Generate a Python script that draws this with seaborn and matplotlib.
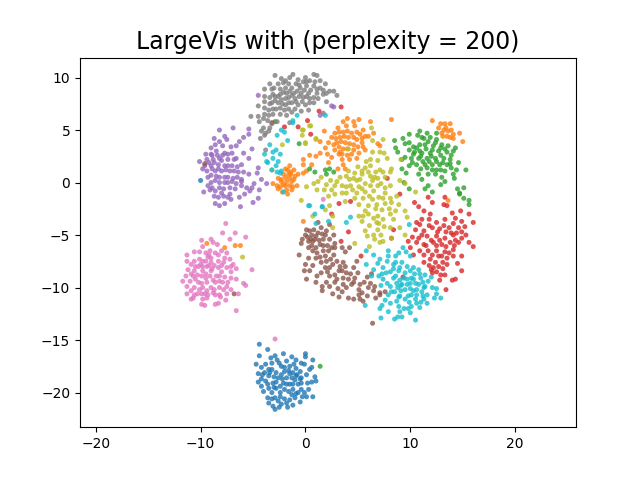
import matplotlib
matplotlib.use("Agg")
import matplotlib.pyplot as plt
import seaborn as sns
import pandas as pd

# points, one list per digit class (x, y)
blue = [(-4.4,-15.4),(-3.6,-15.9),(-4.4,-16.5),(-2.1,-16.3),(0,-16.3),(0,-16.6),(-4.7,-17.3),(-4.2,-17.6),(-3.8,-17.3),(-3.3,-16.7),
        (-2.9,-16.5),(-2.7,-16.9),(-1.8,-17),(-1.3,-16.6),(-.9,-16.9),(-.4,-17.2),(.7,-16.9),(-3.2,-17.2),(-2.3,-17.5),(-1.5,-17.5),
        (-.9,-17.7),(-.1,-17.3),(.6,-17.6),(.4,-17.8),(-4.5,-18.2),(-3.9,-18.1),(-3.2,-17.8),(-2.8,-18.1),(-2,-18),(-1.2,-18.1),
        (-.5,-18),(.1,-18.3),(-4.2,-18.7),(-3.5,-18.4),(-2.6,-18.6),(-1.8,-18.6),(-1,-18.8),(-.4,-18.6),(.9,-18.5),(-4.5,-19),
        (-3.8,-18.9),(-3.1,-19.1),(-2.1,-19.1),(-1.5,-19.2),(-.7,-19.2),(.6,-19),(1,-18.9),(-4.2,-19.4),(-3.5,-19.6),(-2.8,-19.6),
        (-2,-19.7),(-1.2,-19.7),(-.4,-19.7),(.3,-19.7),(-4,-19.9),(-3.2,-20),(-2.4,-20),(-1.3,-20.2),(-.7,-20),(-.1,-20),
        (.7,-20.4),(-3.6,-20.5),(-2.9,-20.5),(-2,-20.6),(-1,-20.5),(.1,-20.4),(-3.5,-21),(-2.6,-20.8),(-1.8,-21),(-.5,-20.9),
        (-3.1,-21.3),(-2.3,-21.1),(-1.7,-21.4),(-1.2,-21.2),(-2.9,-21.6),(-10,.2),
        (-3.5,-17.8),(-2.5,-17.2),(-1.1,-17.3),(-3,-18.5),(-2.3,-18.3),(-1.5,-18.2),(-.8,-18.3),(-2.8,-19),(-2.4,-19.4),(-1.8,-19.2),
        (-1.2,-19.2),(-.4,-19.1),(.2,-19.1),(-3,-19.5),(-2.4,-20.4),(-1.6,-19.9),(-.9,-20.1),(-3.2,-20.6),(-1.5,-20.7),(-.9,-18.4),
        (-2,-17.6),(-1.6,-17.9),(-3.6,-19.2),(-2.2,-18.7),(-1.3,-18.6),(-.3,-20.4),(-2.5,-21.4),(-3.4,-18.1),(-.5,-18.7),(-4.1,-18.3)]
orange = [(8.2,6),(4,6.1),(3.6,5.8),(4.6,5.8),(5.1,6),(6.2,5.8),(3.1,5.2),(3.9,5.4),(4.7,5.4),(5.5,5),(6.5,4.7),(1.8,4.9),
          (2.8,4.7),(3.6,4.8),(4.4,4.7),(5.2,4.6),(6,4.4),(2.5,4.3),(3.3,4.3),(4.1,4.3),(4.9,4.1),(1.4,3.9),(2.2,3.8),(3,3.8),
          (3.8,3.8),(4.6,3.6),(5.4,3.8),(6.9,3.7),(7.1,3.5),(1.9,3.3),(2.8,3.1),(3.6,3.2),(5.1,2.8),(5.7,3.1),(1.4,2.8),(2.1,2.7),
          (3.2,2.7),(4.4,2.7),(.4,2.6),(1,2.5),(2.5,2.4),(3.5,2.2),(4.9,2.3),(-.2,2.2),(.6,1.7),(2.2,1.9),(3.6,1.7),(-.2,1.7),
          (.1,1.1),(3.1,1.3),(3.8,1.3),(-1.5,1.6),(-1.9,1.3),(-1.1,1.2),(-.7,.8),(-1,.6),(-2.1,.8),(-1.6,.8),(-2.6,.4),(-2.3,.3),
          (-1.8,.1),(-1.3,.1),(-3.1,-.1),(-2.7,-.3),(-2.1,-.2),(-1.5,-.3),(-.8,-.3),(-2.6,-.6),(-1.8,-.7),(-1.3,-.7),(-1.7,-1.1),(-.2,.9),
          (12.1,5.9),(13.3,5.6),(13.8,5.6),(12.7,5.2),(13.2,5),(13.6,4.9),(14.7,4.7),(13,4.7),(14.1,4.6),(13.5,4.4),(13.8,4.3),(14.1,4.2),
          (15,3.9),(13.6,-1.7),(-.2,-3.7),(-9.4,-5.8),(-7.7,-6.2),(-6.7,-6),(-6.2,-6),
          (3.2,4.8),(4,4.9),(4.9,4.8),(5.7,4.4),(3.7,4.4),(4.6,4.3),(5.4,4.2),(2.9,4.2),(3.4,3.9),(4.2,3.7),(5,3.4),(3.2,3.4),(4,3.2),
          (4.6,3.1),(5.5,3.4),(2.7,3.6),(3.3,2.9),(4,2.6),(4.2,2.2),(3.5,2.7),(-1.7,1.2),(-1.4,1),(-1.9,.5),(-1.5,.4),(-1.1,.3),(-2.3,.1),
          (-1.9,-.3),(-2.4,-.4),(-1.2,-.4),(-1.4,.8),(13.4,5.2),(13.9,5),(13.1,4.4),(12.9,5.6),(-2.2,-.9)]
green = [(8.5,4),(9.3,4.2),(9.9,4.6),(10.9,4.9),(11.6,4.7),(12.5,4.7),(9.5,3.7),(9.9,3.8),(11.1,4.3),(11.9,4.3),(12.5,4.1),(8.6,3.3),
         (8.8,2.9),(9.9,3.1),(10.6,3.3),(11.4,3.6),(12.2,3.5),(13,3.6),(13.6,3.5),(14.3,3.3),(10.3,2.7),(11.1,2.8),(11.9,2.8),(12.7,3),
         (13.5,2.9),(14.1,3),(9.5,2.4),(9.2,2.2),(10.8,2.3),(11.6,2.3),(12.4,2.3),(13.2,2.3),(13.8,2.2),(9.2,1.3),(9.9,1.6),(10.6,1.7),
         (11.4,1.7),(12.1,1.7),(12.8,1.7),(13.5,1.7),(14.6,1.9),(9.6,.9),(10.8,.8),(11.7,.8),(12.5,1.2),(13.3,1.1),(14.1,.8),(14.4,1.2),
         (15.3,1.2),(11.1,.3),(13,.5),(9.4,0),(13.3,.1),(11.7,-.3),(11.4,-.6),(12.9,-.2),(9.9,-.6),(12.1,-.9),(15.1,-.5),(14.7,-1),
         (15.1,-1.5),(15.6,-1.7),(15.6,-2.1),(14.7,-1.1),(-.6,3.7),(1.9,1.2),(2.3,1.3),(.9,1),(2.7,1),(2,.8),(.4,1.3),(-2.9,5.8),(1.4,-17.5),
         (10.7,4.5),(11.3,4.2),(10.9,3.6),(11.7,3.9),(12.4,3.8),(10.3,3.4),(10.9,3),(11.5,3.2),(12.1,3.1),(12.9,3.3),(13.3,3.2),(10.1,2.3),
         (11,2.5),(12,2.5),(12.9,2.6),(13.9,2.6),(11.2,2),(11.8,2),(12.5,2),(13.1,1.9),(13.8,1.8),(10.2,1.9),(11,1.3),(11.6,1.4),(12.1,1.2),
         (12.9,1.2),(13.9,1.4),(14.2,.4),(10.4,2.9),(12.4,.8),(14.5,-.6)]
red = [(10.4,-1.9),(12.1,-1.9),(10.8,-2.3),(11.3,-2.7),(13.2,-2.1),(13.5,-2.2),(11.9,-3),(14,-2.9),(14.8,-2.7),(15.6,-3),(16,-3.8),
       (10.6,-3.8),(11.1,-3.5),(11.8,-3.5),(12.5,-3.8),(13.3,-3.5),(14.3,-3.4),(14.9,-3.7),(10.5,-4.5),(11.3,-4.6),(12.1,-4.3),(12.8,-4.4),
       (13.7,-4.3),(14.6,-4.3),(15.2,-4.2),(9.8,-5.6),(10.8,-5.3),(11.6,-5.1),(12.5,-5.1),(13.3,-5.3),(14.1,-5),(14.9,-5.3),(15.6,-5.7),
       (16,-6.1),(10.6,-5.7),(11.3,-5.9),(12.2,-5.7),(13,-5.9),(13.8,-5.7),(14.6,-5.7),(10.9,-6.5),(11.7,-6.5),(12.5,-6.5),(13.3,-6.6),
       (14.1,-6.4),(14.9,-7),(10.3,-6.9),(11.3,-7.6),(11.9,-7.3),(12.7,-7),(13.5,-7.2),(14.1,-7),(14.5,-7.7),(12.2,-8.1),(12.7,-8),
       (13.5,-7.8),(14.9,-8.4),(12.1,-8.6),(13.3,-8.8),(12.8,-9.3),(14,-9.3),(14.3,-9.2),(13.4,-10.2),(5.3,-7),(3.4,-5.6),(4.1,-4.7),
       (3.2,-2),(4.3,-1.8),(2.5,-3),(8.4,-4.5),(8.2,-5.3),(9.3,-9),(7.8,.4),(9,-1.1),(11.7,-1.4),(13.3,-1.4),(1.3,6.8),(3.4,7.2),
       (-3.2,5.7),(.2,5.9),(-2,5.3),(-.7,5.3),(.5,4.6),
       (12.6,-4.7),(13.2,-4.1),(14.1,-3.9),(14.9,-4.7),(13.9,-4.8),(13.4,-4.7),(14.4,-4.8),(12,-5.5),(12.8,-5.5),(14.3,-5.5),(11.1,-5),
       (10.2,-5.2),(11.5,-6),(12.5,-6),(13.4,-6.1),(14.2,-6),(11.3,-6.9),(12.1,-6.9),(13,-7),(13.7,-6.7),(11.8,-7.9),(12.4,-7.6),(13.1,-7.6),
       (12,-8.3),(12.5,-8.5),(10.9,-4),(15.3,-5),(11.8,-4.1),(13.1,-8.2),(12.9,-8.8),(10,-6.2)]
purple = [(-8.2,5),(-6.9,5.2),(-5.4,5.1),(-5.4,4.6),(-8.7,4.2),(-7.7,4.4),(-7.5,4.1),(-8.2,3.9),(-6.3,3.9),(-5.9,4.3),(-8.6,3.6),(-9,3.3),
          (-7.9,3.5),(-7.1,3.4),(-6.6,3.5),(-5.1,3.2),(-9.5,2.7),(-9,2.7),(-8.5,3),(-7.7,2.8),(-7,2.8),(-5.9,2.8),(-10.1,2),(-9.4,2.2),
          (-8.8,2.2),(-8.2,2.3),(-7.4,2.2),(-6.6,2.3),(-5.4,2.3),(-9.6,1.6),(-9,1.6),(-8.3,1.7),(-7.7,1.6),(-7,1.6),(-6.1,1.7),(-4.5,1.4),
          (-9.4,1.1),(-8.6,1.1),(-8,1.1),(-7.2,1.1),(-6.4,1),(-5.4,.8),(-4.6,.9),(-9.3,.5),(-8.5,.6),(-7.7,.5),(-6.9,.4),(-6.1,.3),
          (-4.2,.3),(-9,0),(-8.2,0),(-7.4,0),(-6.6,-.1),(-4.9,-.1),(-3.7,-.1),(-9.3,-.3),(-8.2,-.5),(-7.2,-.5),(-6.1,-.3),(-5.1,-.5),
          (-4.4,-.7),(-9.7,-.9),(-9.1,-.7),(-8.6,-.8),(-8,-1),(-7.2,-1.1),(-5.8,-1.1),(-5.3,-.8),(-8.7,-1.3),(-7.4,-1.4),(-6.3,-1.4),
          (-4.5,-1.5),(-8.6,-2),(-8.2,-2.2),(-7.7,-2),(-5,-1.9),(-6.2,-2.3),(-4.5,8.3),(2.5,7.3),(2.7,7.2),(1.4,6.4),
          (-8.9,2.6),(-8.4,2.6),(-8,2.1),(-7.4,2.7),(-6.8,2.2),(-9.2,1.9),(-8.7,1.9),(-7.9,2.6),(-7.4,1.6),(-6.5,1.5),(-8.9,1.3),(-8.3,1.3),
          (-7.6,1.2),(-6.8,1.1),(-9,.7),(-8.2,.5),(-7.4,.5),(-6.5,.5),(-5.9,1),(-8.6,.2),(-7.7,0),(-7,.1),(-6.1,.1),(-8.9,-.5),(-7.8,-.6),
          (-6.7,-.6),(-8.3,-1.4),(-7.1,-1.6),(-7.8,-1.3),(-5.6,-.5),(-9.8,1.3)]
brown = [(1.2,-3.8),(2.3,-4),(.1,-4.5),(.8,-4.5),(1.5,-4.3),(0,-5),(.6,-5),(1.2,-4.8),(2,-4.6),(2.7,-5),(-.3,-5.4),(.3,-5.6),(.9,-5.4),
         (1.7,-5.4),(2.3,-5.4),(-.4,-5.8),(.6,-6),(1.4,-5.9),(2.1,-6),(2.8,-5.8),(.7,-6.5),(1.7,-6.5),(2.5,-6.2),(2.8,-6.2),(3.5,-6.2),
         (4.2,-6.2),(3.8,-6.6),(-.6,-6.9),(1.9,-7),(2.7,-6.9),(.3,-7.2),(1,-7.2),(4.9,-7.5),(2,-7.5),(3,-7.5),(0,-7.8),(.7,-7.9),(2.3,-8.1),
         (3.3,-8),(3.8,-8),(4.6,-8.1),(1.9,-8.1),(1.5,-8.6),(3.5,-8.4),(-.1,-8.4),(.4,-8.4),(1.1,-8.9),(2.3,-8.9),(2.8,-8.8),(4.3,-8.7),
         (5,-8.6),(.1,-9.2),(3,-9.2),(4.1,-9.2),(4.7,-9.1),(5.9,-9),(6.3,-8.7),(1,-9.5),(3.6,-9.7),(4.4,-9.7),(5.2,-9.7),(6.2,-9.6),
         (1.6,-9.9),(2.3,-9.9),(3.1,-10.1),(3.9,-10),(5.1,-10.2),(6.6,-9.9),(1.6,-10.3),(2.6,-10.6),(3.2,-10.9),(5.4,-10.5),(6.5,-10.3),
         (7.1,-10.5),(7.6,-10.4),(4.1,-11),(4.6,-11.1),(5.5,-11.3),(5.9,-10.8),(6.7,-11),(7.1,-10.7),(6.4,-13.4),(-9.6,1.8),(-6.8,-10.6),
         (.4,-4.6),(1,-5.1),(1.6,-4.9),(.2,-5.2),(.7,-5.6),(1.3,-5.5),(1.9,-5),(.3,-6.2),(1,-6.2),(1.7,-6),(2.2,-6.5),(1.1,-6.7),(1.4,-7.1),
         (2.4,-7.3),(2.6,-7.8),(3.6,-7.6),(3.2,-8.4),(3.9,-8.6),(2.1,-8.5),(2.8,-9.5),(3.6,-9.1),(4.6,-9.5),(5.6,-9.5),(5.1,-10.7),(2,-9.5),
         (3.5,-10.4),(6,-10),(5.2,-11.1),(1.5,-7.6),(.5,-5.4)]
pink = [(-7.6,-3.9),(-7.9,-4.8),(-6.7,-4.8),(-5.7,-5.2),(-9.9,-5.5),(-9,-5.4),(-7.2,-5.4),(-8.8,-5.7),(-8.4,-5.9),(-9.8,-6.1),(-10.6,-6.6),
        (-10.1,-6.6),(-9.5,-6.7),(-9.1,-6.5),(-8.6,-6.7),(-8,-6.5),(-7.5,-6.7),(-11.3,-6.9),(-9.3,-7.1),(-10.1,-7.3),(-9,-7.2),(-7.7,-7.2),
        (-7.2,-7.3),(-11.3,-7.5),(-10.6,-7.5),(-9.8,-7.5),(-9,-7.6),(-7.8,-7.6),(-6.9,-7.8),(-10.9,-7.8),(-10.2,-8),(-9.4,-8),(-8.3,-8.1),
        (-7.5,-8.1),(-6.6,-8.2),(-5.1,-8.3),(-11.2,-8.3),(-10.6,-8.4),(-9.8,-8.4),(-9,-8.4),(-8,-8.5),(-7.1,-8.5),(-11.4,-8.9),(-10.7,-8.9),
        (-9.9,-8.9),(-9.1,-8.9),(-8.5,-8.9),(-7.7,-9),(-7.1,-9.1),(-6.6,-9.2),(-11.7,-9.4),(-11,-9.4),(-10.2,-9.5),(-9.4,-9.5),(-8.6,-9.5),
        (-7.9,-9.5),(-5.9,-9.6),(-5.7,-9.8),(-11.3,-9.9),(-10.6,-10),(-9.8,-10),(-9,-10),(-8.2,-10),(-7.5,-9.9),(-7.1,-10.2),(-11.3,-10.6),
        (-10.6,-10.7),(-9.9,-10.6),(-9.3,-10.7),(-8.8,-10.5),(-8.2,-10.7),(-7.5,-10.6),(-6.4,-10.6),(-10.7,-11),(-10.9,-11.1),(-9.8,-11.1),
        (-9.4,-11),(-8.1,-10.9),(-7.6,-11.2),(-9.9,-11.6),(-9.6,-11.7),(-8.6,-11.6),(-8.3,-11.5),(-6.6,-12.2),(1.7,-1.6),(-2.9,-14.9),
        (-10,-7.8),(-9.5,-7.5),(-10.5,-8),(-9.8,-8),(-9.2,-7.9),(-8.7,-7.9),(-8.9,-8.2),(-8.3,-7.5),(-10.3,-8.8),(-9.5,-8.7),(-8.8,-9.3),
        (-8.2,-8.9),(-9.5,-9.1),(-10.5,-9.2),(-9.9,-9.6),(-8.2,-9.4),(-10.1,-10.2),(-9.4,-10.3),(-8.7,-10.2),(-10.3,-10.6),(-9.6,-10.6),
        (-8.6,-10.7),(-7.8,-10.2),(-7.4,-9.5),(-8,-7.9),(-10.9,-8.7),(-10.9,-10.3),(-7.1,-8),(-9.2,-6.9),(-8.3,-6.9)]
gray = [(-2.9,10.2),(-1.2,10.3),(-1.5,10),(-2.3,9.9),(0,10),(.8,10.3),(1.1,10.2),(-.7,9.8),(-2.1,9.5),(-1.6,9.4),(-.9,9.4),(-.2,9.6),(.4,9.7),
        (1.4,9.7),(1.9,9.4),(-3.4,9.4),(-3.9,8.9),(-3.2,8.9),(-2.4,8.9),(-1.9,9),(-1.3,9),(-.5,9),(.1,9.2),(.8,9.2),(1.4,9),(2.3,8.7),(2.7,8.7),
        (2,8.5),(-2.4,8.4),(-1.8,8.5),(-1.1,8.5),(-.4,8.5),(.3,8.5),(1.1,8.5),(1.7,8.4),(-3.9,8.2),(-3.4,8.1),(-2.9,8.2),(-2.3,7.9),(-1.6,8.1),
        (-1,8),(-.2,8.1),(.4,8),(1.2,8),(3,8.3),(-4.5,7.3),(-3.9,7.7),(-3.2,7.6),(-2.6,7.6),(-1.9,7.4),(-1.3,7.6),(-.7,7.4),(0,7.4),(.8,7.6),
        (2,7.7),(-3.9,7.1),(-3.1,7),(-2.4,7.1),(-1.6,7),(-1,7),(-.4,6.8),(.3,6.9),(-5.2,6.3),(-4.5,6.3),(-3.9,6.5),(-3.1,6.5),(-2.4,6.5),
        (-1.8,6.4),(-4.4,5.8),(-3.6,5.9),(-2.7,5.8),(-1.5,5.7),(-4,5.2),(-3.4,5.2),(-4.2,4.9),(-3.5,4.9),(-4.3,4.2),(-3.9,4.5),(-3.8,4.7),
        (1.7,6.6),(-3.8,3.1),
        (-2.6,9.4),(-1.9,9.7),(-.6,9.3),(.1,9.6),(.9,9.6),(-3,9),(-2.1,8.6),(-1.5,8.7),(-.8,8.7),(-.1,8.8),(.5,8.8),(1.1,8.9),(1.7,8.8),
        (-3.1,8.4),(-2.6,8.2),(-1.9,8),(-1.3,8.3),(-.6,8.2),(.1,8.2),(.8,8.1),(-3.4,7.5),(-2.9,7.8),(-2.2,7.5),(-1.6,7.6),(-.9,7.7),(-.3,7.7),
        (.4,7.6),(-3.5,6.9),(-2.8,7),(-2,6.9),(-3.5,6.4),(-4,6.1),(-3.2,5.6),(-1.3,6.7)]
olive = [(.5,5.4),(-.3,5),(-.3,4.5),(0,3.8),(1,4.2),(6.3,5.2),(6.4,4),(7.4,4.1),(4.1,3.2),(6.4,2.9),(7.1,2.9),(7.5,2.8),(5.8,2),(6.2,2.2),
         (6.9,2.1),(7.8,2.3),(5,1.5),(5.7,1.4),(6.2,1.6),(4.1,1.1),(4.7,.9),(5.4,.8),(6.7,1),(7.4,1),(8.2,1.3),(8.1,1),(9.1,2.2),(3.3,.5),
         (3.9,.6),(4.6,.4),(5.2,.3),(6.2,.6),(6.9,.4),(7.6,.5),(1.5,.5),(2.4,.2),(1.2,.1),(.8,-.1),(.1,-.4),(2,-.2),(2.8,-.3),(3.5,-.3),
         (4.3,-.3),(5.1,-.4),(6.2,-.3),(6.9,-.3),(8.1,-.3),(9,.2),(9.5,-.1),(1.1,-.7),(2.5,-.7),(3.5,-1),(4.9,-1),(5.7,-.9),(6.5,-.8),
         (7.6,-1),(10.5,-.9),(-.4,-1.7),(2.8,-1.1),(4.7,-1.5),(5.5,-1.5),(6.4,-1.6),(8.1,-1.5),(8.7,-1.3),(3.8,-1.8),(5.1,-2.1),(6,-2.2),
         (6.8,-2.1),(7.6,-2),(8.2,-1.9),(8.9,-2.1),(1.9,-2.6),(2.3,-2.2),(.7,-3.2),(2.6,-3.2),(5.1,-3.2),(6,-3),(6.9,-3.2),(8.1,-3),(9.5,-2.7),
         (9.7,-3.3),(5.4,-3.7),(6.8,-3.8),(7.4,-3.5),(8.4,-3.5),(5.7,-4.6),(6.9,-4.5),(8.1,-4.3),(9,-4.3),(9.5,-5),(5.9,-5.1),(6.6,-5.4),
         (7.4,-5.6),(4.7,-5.8),(6.1,-6.1),(7.1,-5.7),(8.2,-5.3),(2.6,-4.3),(-6,-7.1),(.4,5.4),(-.2,5),(1,4.1),(-2.2,3.6),(0,3.7),(-3.2,1.2),
         (5.4,1.1),(6,1),(6.6,.5),(7.1,1.2),(4.2,.3),(4.9,.2),(5.7,-.1),(6.4,.2),(7.2,-.1),(7.6,-.5),(3,.1),(3.9,-.4),(4.5,-.7),(5.4,-.6),
         (6.1,-1.3),(7,-1.4),(7.4,-1.5),(6.7,-2.5),(5.7,-2.7),(7.3,-2.6),(8,-2.5),(6.5,-3.4),(7,-3.9),(6.1,-4.1),(7.5,-4.2),(6.5,-5),(7.2,-5),
         (3.9,-1),(2.2,-1.3),(1.8,-.7),(5.5,-3.2),(8.6,-2.7)]
cyan = [(.3,-2.2),(1.6,-2.3),(.9,-3),(2.2,-3.7),(1,-3.9),(4.3,-3.3),(3.9,-3.8),(9.9,-4),(5.8,-6.5),(7.9,-6.5),(9.6,-6.6),(9.3,-6.2),(6.5,-6.9),
        (7.1,-7.3),(7.9,-7),(8.6,-7),(8.9,-6.7),(10,-7),(5.8,-7.8),(6.9,-7.7),(7.8,-7.5),(9.2,-7.6),(6.5,-8.3),(7.4,-8.1),(8.4,-7.8),(9.7,-8),
        (10.3,-8.1),(10.8,-8.3),(7.3,-8.7),(8.1,-8.5),(8.9,-8.4),(10,-8.4),(11.4,-8.8),(6.3,-8.9),(7.4,-9.2),(8.4,-9.1),(9.4,-9.1),(10.1,-9.1),
        (11,-9.1),(11.7,-9.4),(8.1,-9.9),(9.2,-9.7),(10,-9.6),(10.8,-9.7),(11.4,-9.9),(12.1,-10),(12.5,-10.1),(8.5,-10.4),(9.5,-10.2),(10.3,-10.3),
        (11.1,-10.4),(12.5,-10.6),(7.9,-10.7),(9,-10.8),(9.8,-10.8),(10.6,-10.7),(11.6,-10.7),(12.3,-11),(12.9,-11),(7.6,-11.2),(8.7,-11.3),
        (9.5,-11.1),(10.5,-11.1),(11.3,-11.1),(7.3,-11.7),(8.1,-11.5),(9.4,-12),(10.1,-11.8),(10.9,-11.9),(11.6,-11.5),(5.7,-11.7),(7.1,-12),
        (7.9,-12.3),(9.8,-12),(10,-12.4),(7.2,-12.9),(8.5,-13),(8.8,-12.8),(9.2,-12.8),(10.5,-13.1),(9,-12.3),(9.7,-9.2),(10.5,-9.6),(8.7,-9.6),
        (-.8,6.4),(1.9,6.4),(-1.2,5.9),(-1.2,5.7),(-2.3,5),(-2,4.8),(-2.7,4.5),(-1.7,4),(-3.4,3.6),(-2.8,3.1),(-3.1,2.9),(-3.9,2.7),(-2.4,2.7),
        (-3.1,2.3),(-3.7,2),(-2.6,2),(-3.6,1.9),(-2.8,1.6),(-3.2,1.2),(-2.7,1),(-2.3,1.1),(-2.4,.9),(-2.1,-.9),(.4,-2.2),(1.6,-2.3),
        (8.6,-7.6),(9,-8.1),(9.5,-8.6),(10.4,-8.7),(10.9,-8.7),(8.6,-8.9),(9,-9.3),(9.7,-9.7),(10.3,-9.2),(11.2,-9.5),(8.8,-10),(9.1,-10.3),
        (10,-10.1),(10.6,-10.2),(11.3,-10),(8.2,-10.4),(8.9,-10.9),(10.1,-10.7),(11.2,-10.8),(9.9,-11.4),(8.9,-11.8),(10.6,-11.5),(8.4,-8.2),
        (7.7,-8.6),(7.8,-9.6),(7,-8.9),(7.2,-9.8),(11,-11.4),(9.1,-9.8),(12,-9)]

classes = [blue, orange, green, red, purple, brown, pink, gray, olive, cyan]

rows = []
for label, pts in enumerate(classes):
    for x, y in pts:
        rows.append((x, y, label))
df = pd.DataFrame(rows, columns=["x", "y", "label"])

fig, ax = plt.subplots(figsize=(6.4, 4.8), dpi=100)
sns.scatterplot(data=df, x="x", y="y", hue="label", palette="tab10", s=13,
                alpha=0.8, linewidth=0, legend=False, ax=ax)
ax.set_xlabel("")
ax.set_ylabel("")
ax.set_xlim(-21.5, 25.8)
ax.set_ylim(-23.3, 11.9)
ax.set_title("LargeVis with (perplexity = 200)", fontsize=17)
fig.savefig("out.png", dpi=100)
